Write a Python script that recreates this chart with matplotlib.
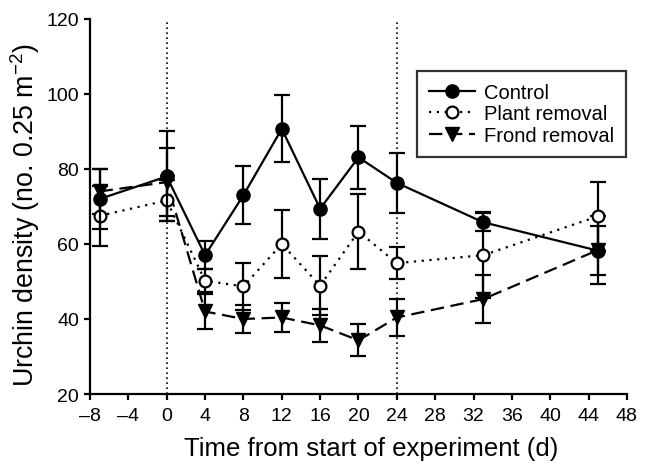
import matplotlib
matplotlib.use('Agg')
import matplotlib.pyplot as plt

plt.rcParams['font.family'] = ['Liberation Sans', 'DejaVu Sans']

# days from start of experiment
days = [-7, 0, 4, 8, 12, 16, 20, 24, 33, 45]

control = [72, 78, 57, 73, 90.7, 69.4, 83.1, 76.3, 65.8, 58.2]
control_err = [8, 12, 3.7, 7.8, 8.9, 8, 8.4, 8, 2.4, 6.5]

plant = [67.5, 71.6, 50.2, 48.7, 60, 48.9, 63.3, 54.9, 57, 67.4]
plant_err = [8, 5.5, 3, 6.2, 9, 7.8, 9.9, 4.2, 11.5, 9.2]

frond = [74, 76.5, 42, 40, 40.4, 38.3, 34.3, 40.4, 45.3, 58.4]
frond_err = [6, 9, 4.7, 3.8, 3.9, 4.4, 4.3, 4.9, 6.5, 9]

fig = plt.figure(figsize=(6.49, 4.64), dpi=100)
ax = fig.add_axes([0.1387, 0.1487, 0.966 - 0.1387, 0.957 - 0.1487])

# vertical reference lines at day 0 and day 24
for xv in [0, 24]:
    ax.axvline(xv, color='black', linestyle=(0, (1, 2)), linewidth=1.2, zorder=1)

ekw = dict(ecolor='black', elinewidth=1.6, capsize=5.5, capthick=1.6)

fr = ax.errorbar(days, frond, yerr=frond_err, color='black', linestyle=(0, (6, 3)),
                 linewidth=1.6, marker='v', markersize=9.5, markerfacecolor='black',
                 zorder=3, **ekw)
pl = ax.errorbar(days, plant, yerr=plant_err, color='black', linestyle=(0, (1, 2.5)),
                 linewidth=1.6, marker='o', markersize=8.5, markerfacecolor='white',
                 markeredgewidth=1.6, zorder=4, **ekw)
co = ax.errorbar(days, control, yerr=control_err, color='black', linestyle='-',
                 linewidth=1.6, marker='o', markersize=9.5, markerfacecolor='black',
                 zorder=5, **ekw)

ax.set_xlim(-8, 48)
ax.set_ylim(20, 120)
ax.set_xticks(range(-8, 49, 4))
ax.set_xticklabels([str(t).replace('-', '\u2013') for t in range(-8, 49, 4)])
ax.set_yticks(range(20, 121, 20))

for s in ['top', 'right']:
    ax.spines[s].set_visible(False)
for s in ['left', 'bottom']:
    ax.spines[s].set_linewidth(1.6)
ax.tick_params(direction='out', length=4.5, width=1.6, labelsize=14, pad=3.5)
ax.tick_params(axis='x', pad=5)

ax.set_xlabel('Time from start of experiment (d)', fontsize=18.5)
ax.xaxis.set_label_coords(0.523, -0.112)
ax.set_ylabel('Urchin density (no. 0.25 m$^{\\mathregular{-2}}$)', fontsize=19.3)
ax.yaxis.set_label_coords(-0.09, 0.479)

leg = ax.legend([co[0], pl[0], fr[0]], ['Control', 'Plant removal', 'Frond removal'],
                loc='upper right', bbox_to_anchor=(0.998, 0.862), fontsize=14.5,
                frameon=True, fancybox=False, handlelength=2.3,
                borderpad=0.6, labelspacing=0.13, handletextpad=0.43,
                borderaxespad=0.0)
leg.get_frame().set_edgecolor('black')
leg.get_frame().set_linewidth(1.6)

fig.savefig('out.png', dpi=100)
